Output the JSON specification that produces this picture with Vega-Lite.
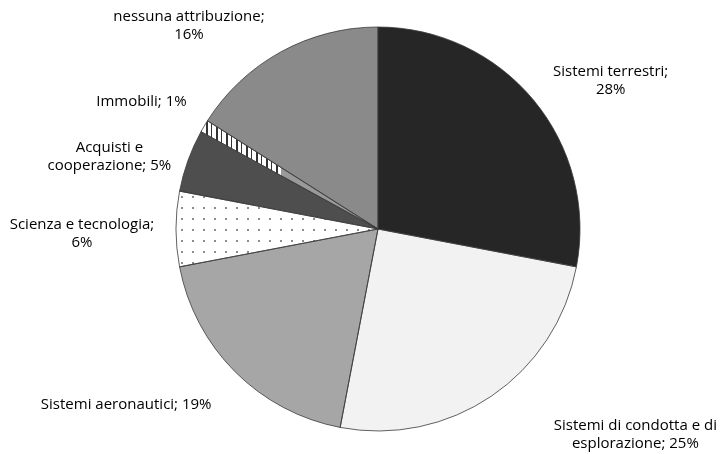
{
  "$schema": "https://vega.github.io/schema/vega-lite/v6.json",
  "width": 688,
  "height": 450,
  "padding": {"left": 34, "top": 4, "right": 0, "bottom": 0},
  "autosize": {"type": "none"},
  "background": "white",
  "config": {
    "view": {"stroke": null},
    "text": {"font": "Open Sans", "fontSize": 15, "lineBreak": "\n", "lineHeight": 18, "align": "center", "baseline": "middle", "fill": "#000000"}
  },
  "data": {
    "values": [
      {"cat": "Sistemi terrestri", "pct": 28, "rank": 1, "label": "Sistemi terrestri;\n28%"},
      {"cat": "Sistemi di condotta e di esplorazione", "pct": 25, "rank": 2, "label": "Sistemi di condotta e di\nesplorazione; 25%"},
      {"cat": "Sistemi aeronautici", "pct": 19, "rank": 3, "label": "Sistemi aeronautici; 19%"},
      {"cat": "Scienza e tecnologia", "pct": 6, "rank": 4, "label": "Scienza e tecnologia;\n6%"},
      {"cat": "Acquisti e cooperazione", "pct": 5, "rank": 5, "label": "Acquisti e\ncooperazione; 5%"},
      {"cat": "Immobili", "pct": 1, "rank": 6, "label": "Immobili; 1%"},
      {"cat": "nessuna attribuzione", "pct": 16, "rank": 7, "label": "nessuna attribuzione;\n16%"}
    ]
  },
  "encoding": {
    "theta": {"field": "pct", "type": "quantitative", "stack": true},
    "order": {"field": "rank", "type": "quantitative"}
  },
  "layer": [
    {
      "mark": {"type": "arc", "outerRadius": 202},
      "encoding": {
        "fill": {
          "field": "cat",
          "type": "nominal",
          "legend": null,
          "scale": {
            "domain": ["Sistemi terrestri", "Sistemi di condotta e di esplorazione", "Sistemi aeronautici", "Scienza e tecnologia", "Acquisti e cooperazione", "Immobili", "nessuna attribuzione"],
            "range": ["#262626", "#f2f2f2", "#a6a6a6", "#ffffff", "#4e4e4e", "#999999", "#8a8a8a"]
          },
          "condition": [
            {
              "test": "datum.cat === 'Scienza e tecnologia'",
              "value": {
                "gradient": "linear", "x1": 0, "y1": 0, "x2": 1, "y2": 0,
                "stops": [
                  {"offset": 0, "color": "#fff"},
                  {"offset": 0.027, "color": "#fff"}, {"offset": 0.027, "color": "#8c8c8c"}, {"offset": 0.0369, "color": "#8c8c8c"}, {"offset": 0.0369, "color": "#fff"},
                  {"offset": 0.0815, "color": "#fff"}, {"offset": 0.0815, "color": "#8c8c8c"}, {"offset": 0.0914, "color": "#8c8c8c"}, {"offset": 0.0914, "color": "#fff"},
                  {"offset": 0.1359, "color": "#fff"}, {"offset": 0.1359, "color": "#8c8c8c"}, {"offset": 0.1458, "color": "#8c8c8c"}, {"offset": 0.1458, "color": "#fff"},
                  {"offset": 0.1904, "color": "#fff"}, {"offset": 0.1904, "color": "#8c8c8c"}, {"offset": 0.2003, "color": "#8c8c8c"}, {"offset": 0.2003, "color": "#fff"},
                  {"offset": 0.2448, "color": "#fff"}, {"offset": 0.2448, "color": "#8c8c8c"}, {"offset": 0.2547, "color": "#8c8c8c"}, {"offset": 0.2547, "color": "#fff"},
                  {"offset": 0.2993, "color": "#fff"}, {"offset": 0.2993, "color": "#8c8c8c"}, {"offset": 0.3092, "color": "#8c8c8c"}, {"offset": 0.3092, "color": "#fff"},
                  {"offset": 0.3538, "color": "#fff"}, {"offset": 0.3538, "color": "#8c8c8c"}, {"offset": 0.3637, "color": "#8c8c8c"}, {"offset": 0.3637, "color": "#fff"},
                  {"offset": 0.4082, "color": "#fff"}, {"offset": 0.4082, "color": "#8c8c8c"}, {"offset": 0.4181, "color": "#8c8c8c"}, {"offset": 0.4181, "color": "#fff"},
                  {"offset": 0.4627, "color": "#fff"}, {"offset": 0.4627, "color": "#8c8c8c"}, {"offset": 0.4726, "color": "#8c8c8c"}, {"offset": 0.4726, "color": "#fff"},
                  {"offset": 0.5171, "color": "#fff"}, {"offset": 0.5171, "color": "#8c8c8c"}, {"offset": 0.527, "color": "#8c8c8c"}, {"offset": 0.527, "color": "#fff"},
                  {"offset": 0.5716, "color": "#fff"}, {"offset": 0.5716, "color": "#8c8c8c"}, {"offset": 0.5815, "color": "#8c8c8c"}, {"offset": 0.5815, "color": "#fff"},
                  {"offset": 0.6261, "color": "#fff"}, {"offset": 0.6261, "color": "#8c8c8c"}, {"offset": 0.636, "color": "#8c8c8c"}, {"offset": 0.636, "color": "#fff"},
                  {"offset": 0.6805, "color": "#fff"}, {"offset": 0.6805, "color": "#8c8c8c"}, {"offset": 0.6904, "color": "#8c8c8c"}, {"offset": 0.6904, "color": "#fff"},
                  {"offset": 0.735, "color": "#fff"}, {"offset": 0.735, "color": "#8c8c8c"}, {"offset": 0.7449, "color": "#8c8c8c"}, {"offset": 0.7449, "color": "#fff"},
                  {"offset": 0.7894, "color": "#fff"}, {"offset": 0.7894, "color": "#8c8c8c"}, {"offset": 0.7993, "color": "#8c8c8c"}, {"offset": 0.7993, "color": "#fff"},
                  {"offset": 0.8439, "color": "#fff"}, {"offset": 0.8439, "color": "#8c8c8c"}, {"offset": 0.8538, "color": "#8c8c8c"}, {"offset": 0.8538, "color": "#fff"},
                  {"offset": 0.8984, "color": "#fff"}, {"offset": 0.8984, "color": "#8c8c8c"}, {"offset": 0.9083, "color": "#8c8c8c"}, {"offset": 0.9083, "color": "#fff"},
                  {"offset": 0.9528, "color": "#fff"}, {"offset": 0.9528, "color": "#8c8c8c"}, {"offset": 0.9627, "color": "#8c8c8c"}, {"offset": 0.9627, "color": "#fff"},
                  {"offset": 1, "color": "#fff"}
                ]
              }
            },
            {
              "test": "datum.cat === 'Immobili'",
              "value": {
                "gradient": "linear", "x1": 0, "y1": 0, "x2": 1, "y2": 0,
                "stops": [
                  {"offset": 0, "color": "#333"}, {"offset": 0.0085, "color": "#333"}, {"offset": 0.0085, "color": "#fff"}, {"offset": 0.0283, "color": "#fff"},
                  {"offset": 0.0283, "color": "#333"}, {"offset": 0.0368, "color": "#333"}, {"offset": 0.0368, "color": "#fff"}, {"offset": 0.0565, "color": "#fff"},
                  {"offset": 0.0565, "color": "#333"}, {"offset": 0.065, "color": "#333"}, {"offset": 0.065, "color": "#fff"}, {"offset": 0.0848, "color": "#fff"},
                  {"offset": 0.0848, "color": "#333"}, {"offset": 0.0933, "color": "#333"}, {"offset": 0.0933, "color": "#fff"}, {"offset": 0.113, "color": "#fff"},
                  {"offset": 0.113, "color": "#333"}, {"offset": 0.1215, "color": "#333"}, {"offset": 0.1215, "color": "#fff"}, {"offset": 0.1413, "color": "#fff"},
                  {"offset": 0.1413, "color": "#333"}, {"offset": 0.1498, "color": "#333"}, {"offset": 0.1498, "color": "#fff"}, {"offset": 0.1695, "color": "#fff"},
                  {"offset": 0.1695, "color": "#333"}, {"offset": 0.178, "color": "#333"}, {"offset": 0.178, "color": "#fff"}, {"offset": 0.1978, "color": "#fff"},
                  {"offset": 0.1978, "color": "#333"}, {"offset": 0.2063, "color": "#333"}, {"offset": 0.2063, "color": "#fff"}, {"offset": 0.226, "color": "#fff"},
                  {"offset": 0.226, "color": "#333"}, {"offset": 0.2345, "color": "#333"}, {"offset": 0.2345, "color": "#fff"}, {"offset": 0.2543, "color": "#fff"},
                  {"offset": 0.2543, "color": "#333"}, {"offset": 0.2628, "color": "#333"}, {"offset": 0.2628, "color": "#fff"}, {"offset": 0.2825, "color": "#fff"},
                  {"offset": 0.2825, "color": "#333"}, {"offset": 0.291, "color": "#333"}, {"offset": 0.291, "color": "#fff"}, {"offset": 0.3108, "color": "#fff"},
                  {"offset": 0.3108, "color": "#333"}, {"offset": 0.3193, "color": "#333"}, {"offset": 0.3193, "color": "#fff"}, {"offset": 0.339, "color": "#fff"},
                  {"offset": 0.339, "color": "#333"}, {"offset": 0.3475, "color": "#333"}, {"offset": 0.3475, "color": "#fff"}, {"offset": 0.3673, "color": "#fff"},
                  {"offset": 0.3673, "color": "#333"}, {"offset": 0.3758, "color": "#333"}, {"offset": 0.3758, "color": "#fff"}, {"offset": 0.3955, "color": "#fff"},
                  {"offset": 0.3955, "color": "#333"}, {"offset": 0.404, "color": "#333"}, {"offset": 0.404, "color": "#fff"}, {"offset": 0.4238, "color": "#fff"},
                  {"offset": 0.4238, "color": "#333"}, {"offset": 0.4323, "color": "#333"}, {"offset": 0.4323, "color": "#fff"}, {"offset": 0.452, "color": "#fff"},
                  {"offset": 0.452, "color": "#999"}, {"offset": 1, "color": "#999"}
                ]
              }
            }
          ]
        }
      }
    },
    {
      "mark": {"type": "arc", "outerRadius": 202, "blend": "lighten"},
      "encoding": {
        "fill": {
          "condition": {
            "test": "datum.cat === 'Scienza e tecnologia'",
            "value": {
              "gradient": "linear", "x1": 0, "y1": 0, "x2": 0, "y2": 1,
              "stops": [
                {"offset": 0, "color": "#fff"},
                {"offset": 0.07, "color": "#fff"}, {"offset": 0.07, "color": "#8c8c8c"}, {"offset": 0.0964, "color": "#8c8c8c"}, {"offset": 0.0964, "color": "#fff"},
                {"offset": 0.2151, "color": "#fff"}, {"offset": 0.2151, "color": "#8c8c8c"}, {"offset": 0.2415, "color": "#8c8c8c"}, {"offset": 0.2415, "color": "#fff"},
                {"offset": 0.3602, "color": "#fff"}, {"offset": 0.3602, "color": "#8c8c8c"}, {"offset": 0.3866, "color": "#8c8c8c"}, {"offset": 0.3866, "color": "#fff"},
                {"offset": 0.5053, "color": "#fff"}, {"offset": 0.5053, "color": "#8c8c8c"}, {"offset": 0.5317, "color": "#8c8c8c"}, {"offset": 0.5317, "color": "#fff"},
                {"offset": 0.6504, "color": "#fff"}, {"offset": 0.6504, "color": "#8c8c8c"}, {"offset": 0.6768, "color": "#8c8c8c"}, {"offset": 0.6768, "color": "#fff"},
                {"offset": 0.7955, "color": "#fff"}, {"offset": 0.7955, "color": "#8c8c8c"}, {"offset": 0.8219, "color": "#8c8c8c"}, {"offset": 0.8219, "color": "#fff"},
                {"offset": 0.9406, "color": "#fff"}, {"offset": 0.9406, "color": "#8c8c8c"}, {"offset": 0.967, "color": "#8c8c8c"}, {"offset": 0.967, "color": "#fff"},
                {"offset": 1, "color": "#fff"}
              ]
            }
          },
          "value": "transparent"
        }
      }
    },
    {
      "mark": {"type": "arc", "outerRadius": 202, "fill": "transparent", "stroke": "#3a3a3a", "strokeWidth": 0.8}
    },
    {
      "mark": {"type": "text", "radius": 276, "dx": 20, "dy": 18},
      "encoding": {"text": {"condition": {"test": "datum.cat === 'Sistemi terrestri'", "field": "label"}, "value": ""}}
    },
    {
      "mark": {"type": "text", "radius": 312, "dx": 82, "dy": -62},
      "encoding": {"text": {"condition": {"test": "datum.cat === 'Sistemi di condotta e di esplorazione'", "field": "label"}, "value": ""}}
    },
    {
      "mark": {"type": "text", "radius": 301, "dx": -39, "dy": -38},
      "encoding": {"text": {"condition": {"test": "datum.cat === 'Sistemi aeronautici'", "field": "label"}, "value": ""}}
    },
    {
      "mark": {"type": "text", "radius": 296, "dx": 0, "dy": -5},
      "encoding": {"text": {"condition": {"test": "datum.cat === 'Scienza e tecnologia'", "field": "label"}, "value": ""}}
    },
    {
      "mark": {"type": "text", "radius": 277, "dx": -8, "dy": 12},
      "encoding": {"text": {"condition": {"test": "datum.cat === 'Acquisti e cooperazione'", "field": "label"}, "value": ""}}
    },
    {
      "mark": {"type": "text", "radius": 269, "dx": -5, "dy": 9},
      "encoding": {"text": {"condition": {"test": "datum.cat === 'Immobili'", "field": "label"}, "value": ""}}
    },
    {
      "mark": {"type": "text", "radius": 272, "dx": -58, "dy": 25},
      "encoding": {"text": {"condition": {"test": "datum.cat === 'nessuna attribuzione'", "field": "label"}, "value": ""}}
    }
  ]
}
